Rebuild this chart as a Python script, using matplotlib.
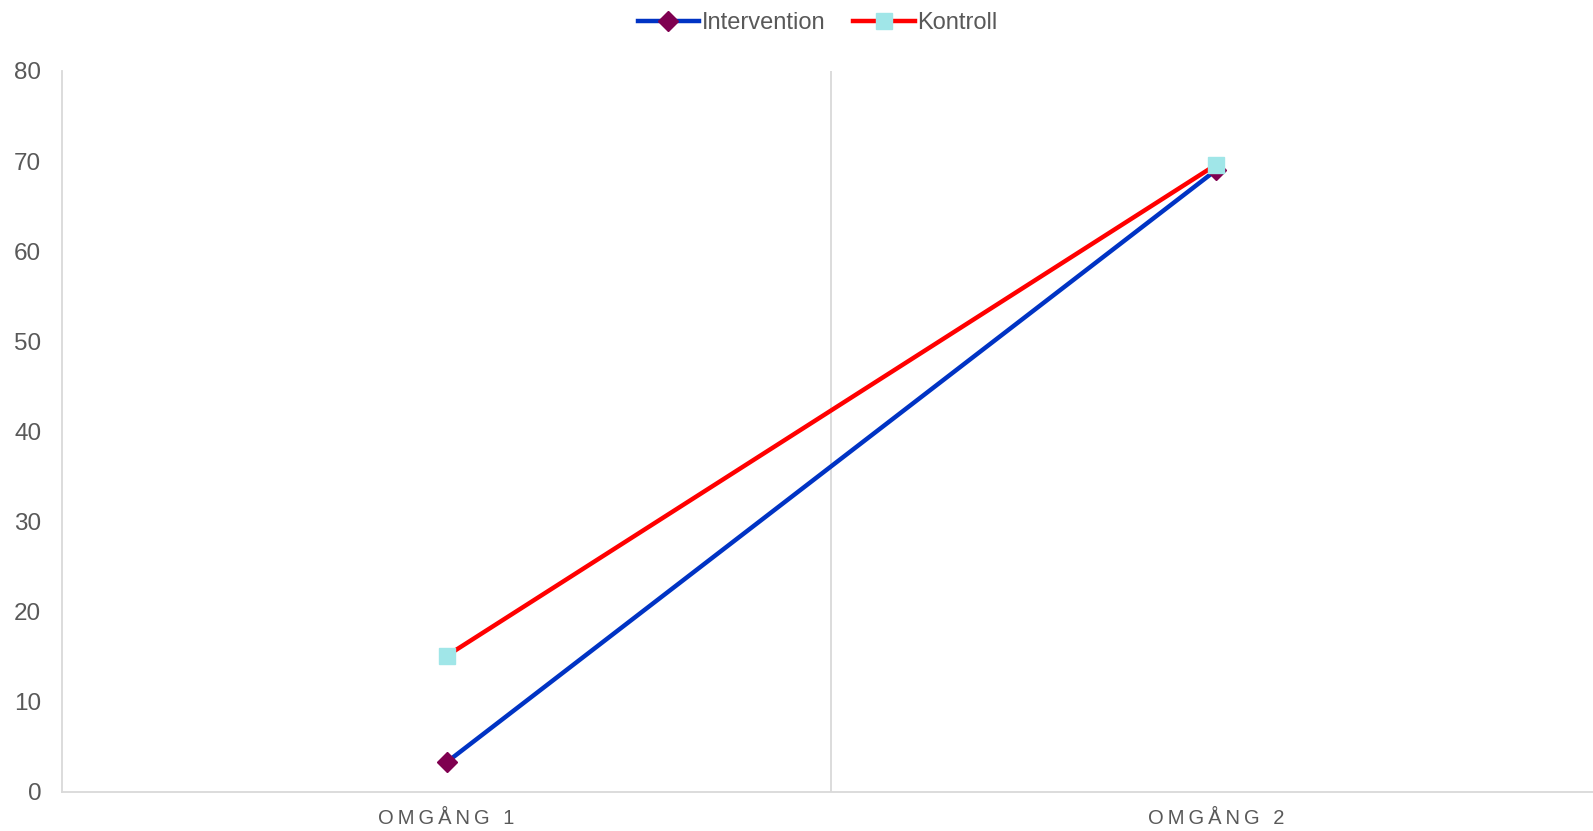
import matplotlib.pyplot as plt

plt.rcParams['font.family'] = ['Liberation Sans', 'DejaVu Sans']

# Two measurement rounds, one value per group
omgangar = ['OMGÅNG 1', 'OMGÅNG 2']
intervention = [3.3, 69.0]
kontroll = [15.1, 69.6]

text_grey = '#595959'
axis_grey = '#d9d9d9'

fig = plt.figure(figsize=(15.93, 8.31), dpi=100)
# the plot area runs slightly past the right edge of the figure
ax = fig.add_axes([0.0389, 0.047, 0.966, 0.8676])

x = list(range(len(omgangar)))
ax.plot(x, intervention, color='#0033c4', lw=3.2, marker='D', ms=10,
        mfc='#7f0050', mec='#7f0050', label='Intervention', zorder=3)
ax.plot(x, kontroll, color='#ff0000', lw=3.2, marker='s', ms=12,
        mfc='#a0e6e8', mec='#a0e6e8', label='Kontroll', zorder=4)

ax.set_xlim(-0.5, len(omgangar) - 0.5)
ax.set_ylim(0, 80)
ax.set_yticks(range(0, 81, 10))
ax.set_xticks(x)
# spread the category letters out with thin spaces
ax.set_xticklabels(['\u2009'.join(lab) for lab in omgangar])

# divider between the categories
for b in range(1, len(omgangar)):
    ax.axvline(b - 0.5, color=axis_grey, lw=1.3, zorder=1)

for side in ['top', 'right']:
    ax.spines[side].set_visible(False)
for side in ['left', 'bottom']:
    ax.spines[side].set_color(axis_grey)
    ax.spines[side].set_linewidth(1.3)

ax.tick_params(axis='y', length=0, labelsize=17.5, labelcolor=text_grey, pad=15)
ax.tick_params(axis='x', length=0, labelsize=14.5, labelcolor=text_grey, pad=12)

leg = ax.legend(loc='upper center', bbox_to_anchor=(0.491, 1.111), ncol=2, frameon=False,
                fontsize=17, handlelength=2.6, handletextpad=0.1, columnspacing=1.2,
                labelcolor=text_grey)

fig.savefig('out.png', dpi=100)
